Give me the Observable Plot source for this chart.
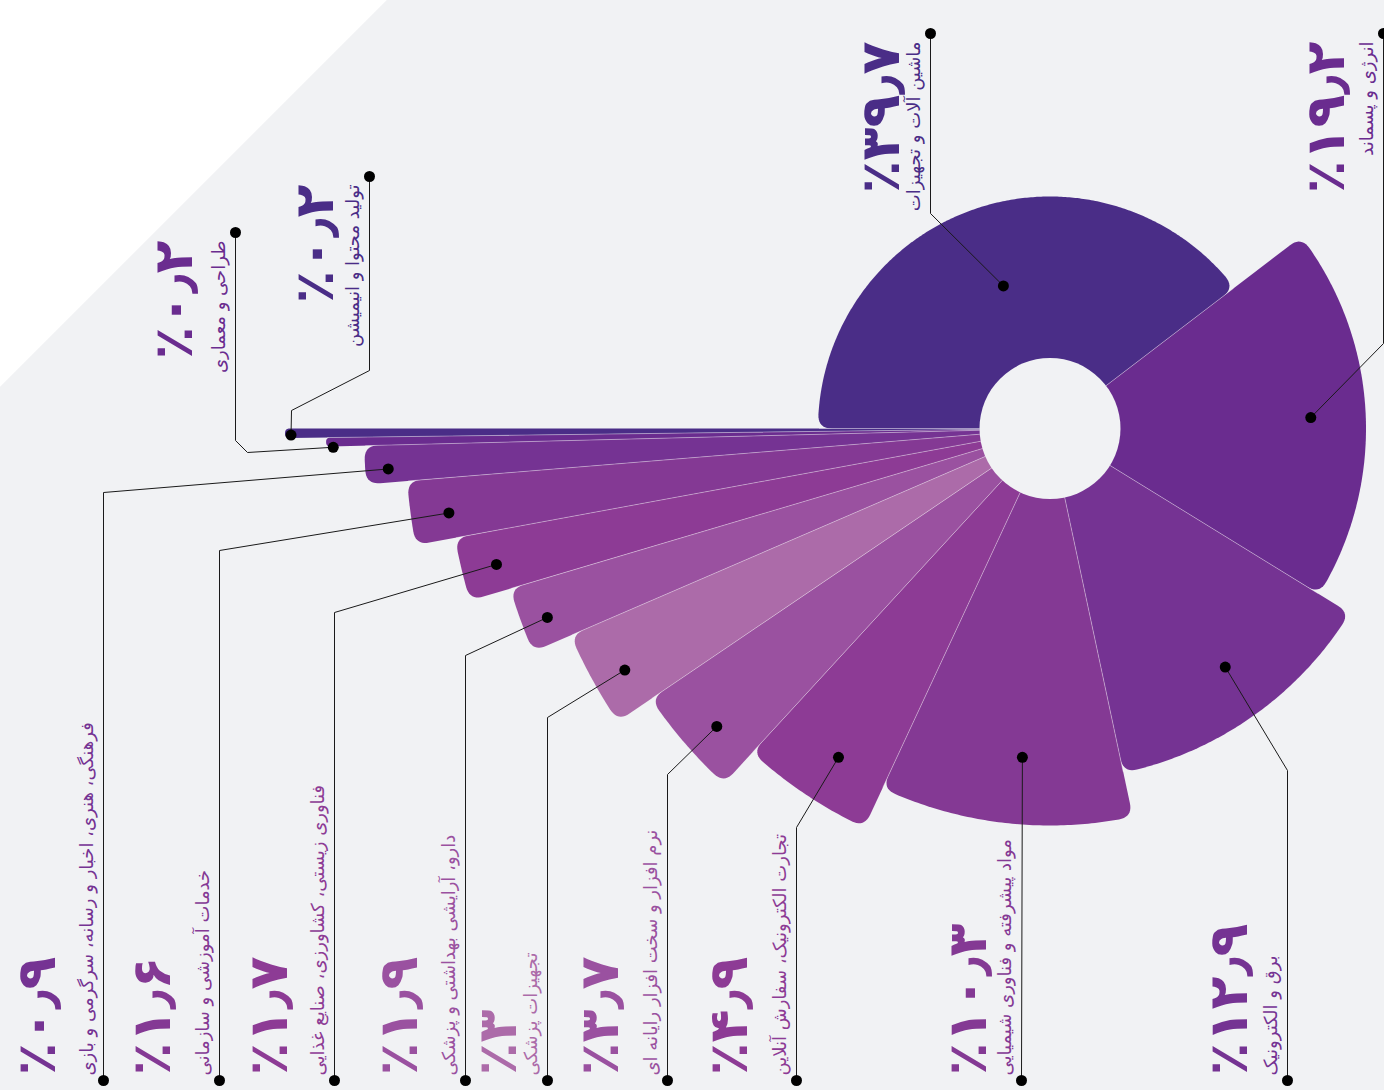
<!DOCTYPE html>
<html><head><meta charset="utf-8">
<script src="https://cdn.jsdelivr.net/npm/d3@7"></script>
<script src="https://cdn.jsdelivr.net/npm/@observablehq/plot@0.6"></script>
<style>
html,body{margin:0;padding:0;background:#f1f2f4;}
#chart{width:1384px;height:1090px;background:linear-gradient(135deg,#ffffff 0px,#ffffff 273px,#f1f2f4 274px);overflow:hidden;}
#chart svg{display:block;}
</style></head><body><div id="chart"></div>
<script>
// ---- data ----
const categories = [
  "ماشین آلات و تجهیزات",
  "انرژی و پسماند",
  "برق و الکترونیک",
  "مواد پیشرفته و فناوری شیمیایی",
  "تجارت الکترونیک، سفارش آنلاین",
  "نرم افزار و سخت افزار رایانه ای",
  "تجهیزات پزشکی",
  "دارو، آرایشی بهداشتی و پزشکی",
  "فناوری زیستی، کشاورزی، صنایع غذایی",
  "خدمات آموزشی و سازمانی",
  "فرهنگی، هنری، اخبار و رسانه، سرگرمی و بازی",
  "طراحی و معماری",
  "تولید محتوا و انیمیشن"
];
const values = [39.7, 19.2, 12.9, 10.3, 4.9, 3.7, 3.0, 1.9, 1.7, 1.6, 0.9, 0.2, 0.2];
const colors = ["#4a2d87","#6a2c8f","#753393","#843994","#8d3b95","#9a51a0","#ac6ba9",
                "#9a51a0","#8d3b95","#843994","#753393","#6a2c8f","#4a2d87"];

// ---- layout (visual design, not data) ----
const W = 1384, H = 1090, cx = 1049.5, cy = 428, hole = 70.5, bg = "#f1f2f4";
const outerR = [232, 316, 352, 397, 440, 482, 522, 563, 605, 645, 686, 724, 765];
const dotAngle = [108.1, 2.4, -53.7, -94.8, -122.75, -138.2, -150.4, -159.4, -166.2, -172.0, -176.5, -178.5, -179.5];
const dotR = [150, 261, 296, 330, 391, 447, 489, 537, 570, 607, 663, 717, 759];
const side = ["top","top","bottom","bottom","bottom","bottom","bottom","bottom","bottom","bottom","bottom","top","top"];
const lineX = [930, 1383, 1287, 1021, 796, 667, 547, 465, 334, 219, 103, 235, 369];
const endY = [33, 33, 1080, 1080, 1080, 1080, 1080, 1080, 1080, 1080, 1080, 232, 176];
const numOffset = [-32, -40, -41, -36, -50, -50, -32, -49, -48, -50, -49, -44, -37];
const elbows = [
  [[930,213]], [[1383,343]], [[1287,770]], [], [[796,827]], [[667,774]], [[547,717]],
  [[465,655]], [[334,612]], [[219,550]], [[103,492]], [[247,452],[235,440]], [[291,410],[369,370]]
];

const faDigits = "۰۱۲۳۴۵۶۷۸۹";
const fmt = v => "٪" + String(v).replace(/[0-9]/g, c => faDigits[+c]).replace(".", "٫");

const total = d3.sum(values);
const rad = Math.PI / 180;
const P = (r, a) => ({x: cx + r * Math.cos(a), y: cy - r * Math.sin(a)});

let acc = 0;
const wedges = values.map((v, i) => {
  const a0 = Math.PI - acc / total * 2 * Math.PI;
  acc += v;
  const a1 = Math.PI - acc / total * 2 * Math.PI;
  return {i, a0, a1, R: outerR[i], color: colors[i]};
});

function wedgePoints(w) {
  const {a0, a1, R} = w;
  const half = R * (a0 - a1) / 2;
  const rc = Math.min(14, half * 0.95);
  const da = rc / R;
  const pts = [P(0, 0), P(R - rc, a0)];
  const quad = (p0, p1, p2) => {
    for (let k = 1; k <= 10; k++) {
      const t = k / 10;
      pts.push({x: (1-t)*(1-t)*p0.x + 2*(1-t)*t*p1.x + t*t*p2.x,
                y: (1-t)*(1-t)*p0.y + 2*(1-t)*t*p1.y + t*t*p2.y});
    }
  };
  quad(P(R - rc, a0), P(R, a0), P(R, a0 - da));
  const span = a0 - a1 - 2 * da;
  const n = Math.max(2, Math.ceil(span / rad * 2));
  for (let k = 1; k < n; k++) pts.push(P(R, a0 - da - span * k / n));
  pts.push(P(R, a1 + da));
  quad(P(R, a1 + da), P(R, a1), P(R - rc, a1));
  return pts;
}

// separators between neighbouring wedges
const seps = wedges.map((w, i) => {
  const nxt = wedges[(i + 1) % wedges.length];
  const r2 = Math.min(w.R, nxt.R) - 1;
  const p1 = P(hole, w.a1), p2 = P(r2, w.a1);
  return {x1: p1.x, y1: p1.y, x2: p2.x, y2: p2.y};
});

// leaders
const leaders = [];
const startDots = [], endDots = [];
values.forEach((v, i) => {
  const d = P(dotR[i], dotAngle[i] * rad);
  startDots.push(d);
  const e = {x: lineX[i], y: endY[i]};
  endDots.push(e);
  const path = [d, ...elbows[i].map(([x, y]) => ({x, y})), e];
  path.forEach((p, k) => leaders.push({key: i, k, x: p.x, y: p.y}));
});

// labels
const labels = values.map((v, i) => ({
  i, side: side[i], name: categories[i], num: fmt(v), color: colors[i],
  xName: lineX[i] - 11, xNum: lineX[i] + numOffset[i],
  y: side[i] === "top" ? endY[i] + 8 : endY[i] - 5
}));
const topL = labels.filter(d => d.side === "top");
const botL = labels.filter(d => d.side === "bottom");

const font = "DejaVu Sans";
const nameSize = 18, numSize = 54;
const marks = [
  ...wedges.map(w => Plot.line(wedgePoints(w), {x: "x", y: "y", fill: w.color, stroke: "none", curve: "linear-closed"})),
  Plot.link(seps, {x1: "x1", y1: "y1", x2: "x2", y2: "y2", stroke: "#ffffff", strokeOpacity: 0.45, strokeWidth: 0.8}),
  Plot.dot([{x: cx, y: cy}], {x: "x", y: "y", r: hole, fill: bg, stroke: "none"}),
  Plot.line(leaders, {x: "x", y: "y", z: "key", stroke: "#1a1a1a", strokeWidth: 1}),
  Plot.dot(startDots, {x: "x", y: "y", r: 5.5, fill: "#000", stroke: "none"}),
  Plot.dot(endDots, {x: "x", y: "y", r: 5.5, fill: "#000", stroke: "none"}),
  Plot.text(topL, {x: "xName", y: "y", text: "name", fill: "color", rotate: -90, textAnchor: "end", lineAnchor: "bottom", fontSize: nameSize, fontFamily: font}),
  Plot.text(topL, {x: "xNum", y: "y", text: "num", fill: "color", rotate: -90, textAnchor: "end", lineAnchor: "bottom", fontSize: numSize, fontWeight: "bold", fontFamily: font}),
  Plot.text(botL, {x: "xName", y: "y", text: "name", fill: "color", rotate: -90, textAnchor: "start", lineAnchor: "bottom", fontSize: nameSize, fontFamily: font}),
  Plot.text(botL, {x: "xNum", y: "y", text: "num", fill: "color", rotate: -90, textAnchor: "start", lineAnchor: "bottom", fontSize: numSize, fontWeight: "bold", fontFamily: font})
];

const chart = Plot.plot({
  width: W, height: H,
  margin: 0,
  style: {background: "transparent", overflow: "visible"},
  x: {domain: [0, W], range: [0, W], axis: null},
  y: {domain: [0, H], range: [0, H], axis: null},
  color: {type: "identity"},
  marks
});
document.getElementById("chart").appendChild(chart);
</script>
</body></html>
